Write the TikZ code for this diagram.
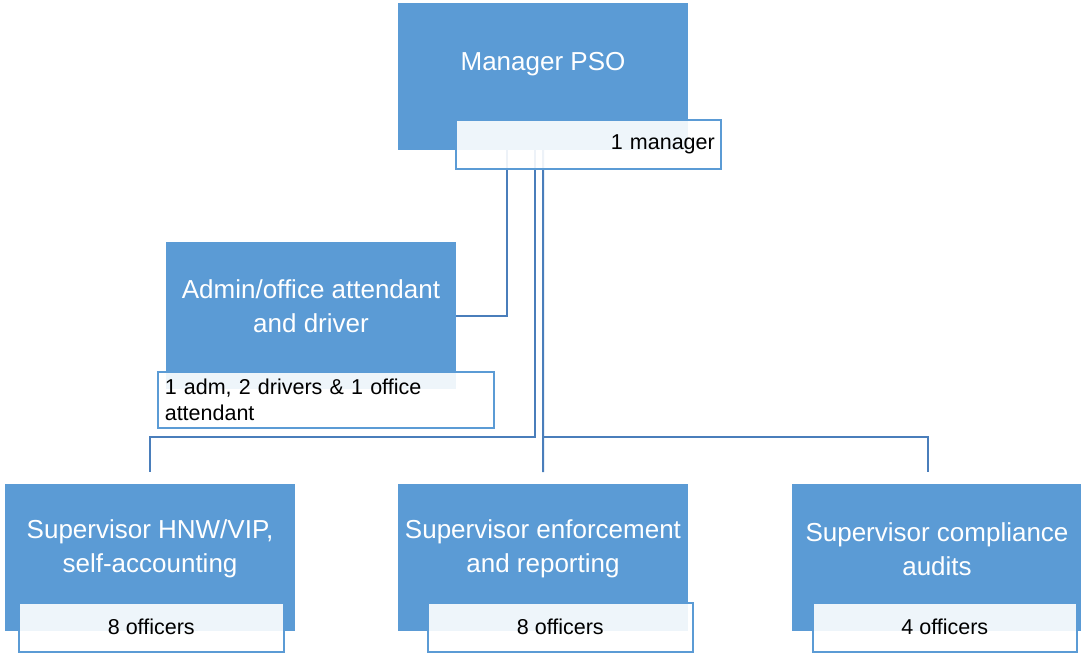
\documentclass[tikz,border=0pt]{standalone}
\usepackage{fontspec}
\setmainfont{Liberation Sans}
\usetikzlibrary{calc}
\definecolor{boxblue}{HTML}{5B9BD5}
\definecolor{linkblue}{HTML}{4A7EBB}
\definecolor{countedge}{HTML}{5B9BD5}
\tikzset{
  unit/.style={fill=boxblue, anchor=north west, inner sep=0pt, minimum width=290pt, minimum height=147pt},
  unittxt/.style={text=white, font=\fontsize{26}{34}\selectfont, align=center, inner sep=0pt},
  count/.style={draw=countedge, line width=1.6pt, fill=white, fill opacity=0.9, text opacity=1,
    anchor=north west, inner ysep=0pt, minimum height=49pt, text=black, font=\fontsize{21.5}{26}\selectfont},
  link/.style={draw=linkblue, line width=2pt},
}
\begin{document}
\begin{tikzpicture}[x=1pt,y=-1pt]
  \useasboundingbox (0,0) rectangle (1081,654);

  % blue boxes
  \node[unit] (mgr) at (398,3) {};
  \node[unit] (adm) at (166,242) {};
  \node[unit] (hnw) at (5,484) {};
  \node[unit] (enf) at (398,484) {};
  \node[unit] (aud) at (792,484) {};

  \node[unittxt] (mgrt) at (543,64) {Manager PSO};
  \node[unittxt] (admt) at (311,306) {Admin/office attendant\\and driver};
  \node[unittxt] (hnwt) at (150,549) {Supervisor HNW/VIP,\\self-accounting};
  \node[unittxt] (enft) at (543,549) {Supervisor enforcement\\and reporting};
  \node[unittxt] (audt) at (937,549) {Supervisor compliance\\audits};

  % connectors
  \coordinate (m1) at (507,150);
  \coordinate (m2) at (535,150);
  \coordinate (m3) at (543,150);
  \coordinate (bar) at (0,437);
  \coordinate (audtop) at (928,472);
  \draw[link] (m1) |- (adm.east);
  \draw[link] (m2) |- (hnw.north |- bar) -- ([yshift=12pt]hnw.north);
  \draw[link] (m3) -- ([yshift=12pt]enf.north);
  \draw[link] (m3 |- bar) -| (audtop);

  % head counts
  \node[count, minimum width=265pt, text width=253pt, inner xsep=6pt, align=right] (mgrc) at (455,119) {1 manager};
  \node[count, minimum height=56pt, text width=322pt, inner xsep=7pt, align=left] (admc) at (157,371)
    {1 adm, 2 drivers \& 1 office\\attendant};
  \node[count, minimum width=265pt] (hnwc) at (18,602) {8 officers};
  \node[count, minimum width=265pt] (enfc) at (427,602) {8 officers};
  \node[count, minimum width=264pt] (audc) at (812,602) {4 officers};
\end{tikzpicture}
\end{document}
